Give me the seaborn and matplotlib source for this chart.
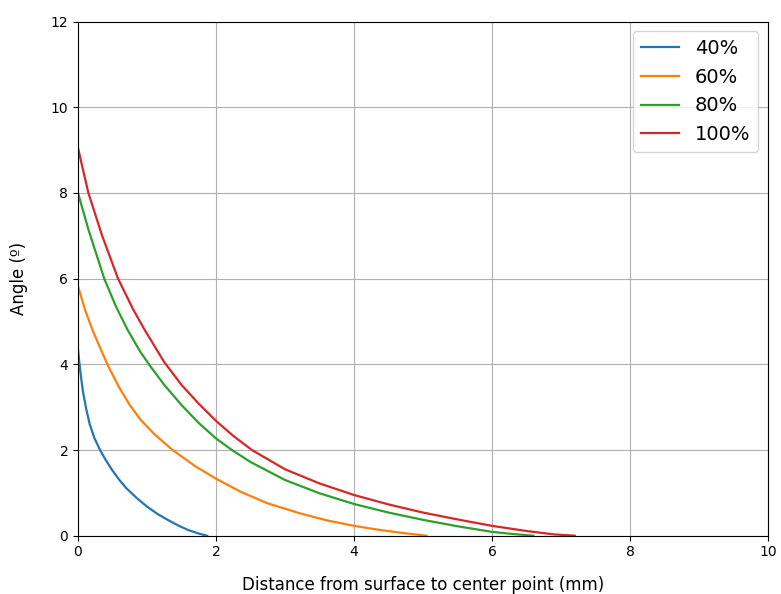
import matplotlib
matplotlib.use("Agg")
import matplotlib.pyplot as plt
import seaborn as sns
import pandas as pd

# ---- data ----
series_labels = ["40%", "60%", "80%", "100%"]

x_40 = [0.0, 0.03, 0.07, 0.12, 0.17, 0.24, 0.32, 0.40, 0.50, 0.60, 0.70, 0.85,
        1.00, 1.15, 1.30, 1.45, 1.60, 1.75, 1.87]
y_40 = [4.35, 3.88, 3.38, 2.95, 2.60, 2.27, 2.00, 1.77, 1.52, 1.30, 1.11, 0.88,
        0.68, 0.51, 0.37, 0.24, 0.13, 0.05, 0.0]

x_60 = [0.0, 0.10, 0.21, 0.33, 0.44, 0.60, 0.75, 0.91, 1.10, 1.37, 1.70, 2.00,
        2.35, 2.74, 3.22, 3.60, 4.00, 4.35, 4.67, 5.05]
y_60 = [5.82, 5.28, 4.80, 4.35, 3.95, 3.45, 3.05, 2.70, 2.38, 2.00, 1.62, 1.33,
        1.03, 0.76, 0.52, 0.36, 0.23, 0.14, 0.07, 0.0]

x_80 = [0.0, 0.15, 0.38, 0.55, 0.72, 0.90, 1.05, 1.25, 1.50, 1.75, 2.00, 2.23,
        2.50, 3.00, 3.50, 4.00, 4.50, 5.00, 5.50, 6.00, 6.30, 6.60]
y_80 = [8.0, 7.15, 6.00, 5.35, 4.80, 4.30, 3.95, 3.52, 3.05, 2.63, 2.27, 2.00,
        1.72, 1.30, 0.99, 0.74, 0.54, 0.37, 0.22, 0.09, 0.04, 0.0]

x_100 = [0.0, 0.15, 0.35, 0.58, 0.80, 0.96, 1.25, 1.50, 1.75, 2.00, 2.25, 2.52,
         3.00, 3.50, 4.00, 4.50, 5.00, 5.50, 6.00, 6.50, 6.90, 7.20]
y_100 = [9.05, 8.00, 7.00, 6.00, 5.28, 4.82, 4.05, 3.52, 3.08, 2.68, 2.33, 2.00,
         1.55, 1.22, 0.95, 0.73, 0.54, 0.38, 0.23, 0.11, 0.03, 0.0]

x_ticks = [0, 2, 4, 6, 8, 10]
y_ticks = [0, 2, 4, 6, 8, 10, 12]

frames = []
for lab, xs, ys in zip(series_labels, [x_40, x_60, x_80, x_100], [y_40, y_60, y_80, y_100]):
    frames.append(pd.DataFrame({"x": xs, "y": ys, "series": lab}))
df = pd.concat(frames, ignore_index=True)

fig = plt.figure(figsize=(7.81, 5.94), dpi=100)
ax = fig.add_axes([78 / 781, (594 - 535.7) / 594, 690 / 781, 514.2 / 594])

sns.lineplot(data=df, x="x", y="y", hue="series", hue_order=series_labels,
             palette=sns.color_palette("tab10", 4), sort=False, estimator=None,
             linewidth=1.6, ax=ax)

ax.set_xlim(0, 10)
ax.set_ylim(0, 12)
ax.set_xticks(x_ticks)
ax.set_yticks(y_ticks)
ax.tick_params(labelsize=10)
ax.grid(True, color="#b0b0b0", linewidth=0.8)
ax.set_axisbelow(True)
ax.set_xlabel("Distance from surface to center point (mm)", fontsize=12, labelpad=12)
ax.set_ylabel("Angle (º)", fontsize=12, labelpad=16)

handles, labels = ax.get_legend_handles_labels()
ax.legend(handles, labels, loc="upper right", fontsize=14)

fig.savefig("out.png", dpi=100)
